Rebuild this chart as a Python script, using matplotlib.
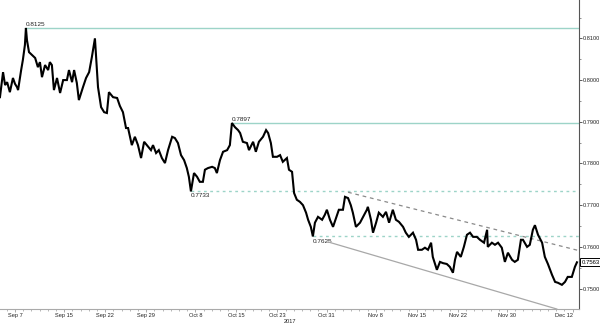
#!/usr/bin/env python3
"""
AUD/USD hourly chart, Sep - Dec 2017, with support/resistance levels.
"""
import numpy as np
import matplotlib
matplotlib.use('Agg')
import matplotlib.pyplot as plt
import matplotlib.transforms as mtransforms
from matplotlib.ticker import FixedLocator, MultipleLocator

START = '2017-09-05'

# trading hours since START (weekends collapsed) and price
hours = [4, 13, 19, 25, 33, 42, 48, 54, 57, 66, 71, 77, 80, 83, 89, 98, 107, 115, 121, 127,
	136, 145, 150, 156, 162, 171, 180, 189, 200, 206, 215, 221, 229, 235, 247, 256, 265, 273,
	282, 288, 291, 300, 309, 317, 323, 335, 347, 355, 364, 373, 379, 390, 399, 408, 417, 426,
	434, 446, 452, 461, 469, 478, 487, 496, 508, 516, 525, 534, 543, 551, 557, 563, 572, 581,
	589, 598, 604, 613, 625, 633, 639, 648, 657, 669, 677, 683, 692, 701, 707, 715, 727, 733,
	745, 753, 762, 774, 783, 789, 797, 803, 815, 824, 832, 844, 850, 859, 865, 873, 882, 891,
	900, 906, 914, 920, 926, 935, 947, 955, 961, 970, 979, 988, 996, 1008, 1014, 1023, 1031,
	1037, 1046, 1058, 1067, 1078, 1081, 1090, 1096, 1105, 1113, 1125, 1134, 1143, 1154, 1163,
	1172, 1184, 1192, 1201, 1213, 1222, 1228, 1239, 1248, 1257, 1266, 1271, 1283, 1292, 1301,
	1312, 1321, 1330, 1336, 1342, 1353, 1362, 1371, 1380, 1389, 1400, 1409, 1421, 1430, 1432,
	1444, 1453, 1462, 1473, 1482, 1491, 1503, 1511, 1520, 1529, 1535, 1547, 1555, 1564, 1570,
	1579, 1591, 1599, 1608, 1620, 1629, 1637, 1649, 1658, 1666, 1678, 1687, 1693]
price = [0.7959, 0.8019, 0.7988, 0.7995, 0.7971, 0.8005, 0.7991, 0.7983, 0.7976, 0.8024,
	0.8048, 0.8084, 0.8125, 0.8096, 0.8067, 0.8060, 0.8053, 0.8031, 0.8043, 0.8007,
	0.8036, 0.8024, 0.8043, 0.8036, 0.7976, 0.8005, 0.7969, 0.8000, 0.8000, 0.8024,
	0.7995, 0.8024, 0.7993, 0.7952, 0.7983, 0.8005, 0.8019, 0.8055, 0.8100, 0.8024,
	0.7983, 0.7935, 0.7923, 0.7921, 0.7971, 0.7959, 0.7957, 0.7938, 0.7923, 0.7885,
	0.7885, 0.7844, 0.7864, 0.7844, 0.7813, 0.7852, 0.7844, 0.7832, 0.7844, 0.7825,
	0.7832, 0.7813, 0.7801, 0.7832, 0.7864, 0.7861, 0.7849, 0.7820, 0.7808, 0.7789,
	0.7768, 0.7733, 0.7777, 0.7768, 0.7756, 0.7756, 0.7785, 0.7789, 0.7792, 0.7789,
	0.7777, 0.7808, 0.7828, 0.7832, 0.7844, 0.7897, 0.7887, 0.7880, 0.7873, 0.7852,
	0.7849, 0.7832, 0.7852, 0.7828, 0.7852, 0.7864, 0.7880, 0.7873, 0.7849, 0.7816,
	0.7816, 0.7820, 0.7804, 0.7813, 0.7785, 0.7780, 0.7729, 0.7713, 0.7708, 0.7700,
	0.7682, 0.7665, 0.7648, 0.7625, 0.7658, 0.7672, 0.7665, 0.7677, 0.7689, 0.7665,
	0.7648, 0.7670, 0.7689, 0.7689, 0.7720, 0.7717, 0.7700, 0.7682, 0.7648, 0.7658,
	0.7672, 0.7689, 0.7696, 0.7665, 0.7634, 0.7658, 0.7682, 0.7672, 0.7684, 0.7658,
	0.7689, 0.7665, 0.7660, 0.7648, 0.7634, 0.7624, 0.7634, 0.7617, 0.7593, 0.7593,
	0.7598, 0.7593, 0.7610, 0.7576, 0.7545, 0.7564, 0.7561, 0.7559, 0.7552, 0.7538,
	0.7569, 0.7588, 0.7576, 0.7600, 0.7629, 0.7634, 0.7624, 0.7624, 0.7617, 0.7610,
	0.7641, 0.7600, 0.7610, 0.7605, 0.7610, 0.7598, 0.7564, 0.7586, 0.7569, 0.7564,
	0.7569, 0.7617, 0.7617, 0.7600, 0.7605, 0.7641, 0.7652, 0.7629, 0.7610, 0.7576,
	0.7559, 0.7533, 0.7516, 0.7514, 0.7509, 0.7516, 0.7528, 0.7528, 0.7552, 0.7563]

# marked highs / lows, drawn as levels to the right edge
levels = [0.8125, 0.7897, 0.7733, 0.7625]
level_dashed = [False, False, True, True]

# trend lines (hour, price) pairs
resist_hours = [1023, 1699]
resist_price = [0.7731, 0.7591]
support_hours = [964, 1634]
support_price = [0.7612, 0.7451]

tick_dates = ['2017-09-07', '2017-09-15', '2017-09-22', '2017-09-29', '2017-10-08',
	'2017-10-15', '2017-10-23', '2017-10-31', '2017-11-08', '2017-11-15', '2017-11-22',
	'2017-11-30', '2017-12-12']
tick_labels = ['Sep 7', 'Sep 15', 'Sep 22', 'Sep 29', 'Oct 8', 'Oct 15', 'Oct 23', 'Oct 31',
	'Nov 8', 'Nov 15', 'Nov 22', 'Nov 30', 'Dec 12']
year_label = '2017'

TEAL = '#9dd4c8'
plt.rcParams['font.family'] = ['Liberation Sans', 'DejaVu Sans']

fig = plt.figure(figsize=(6, 3.23), dpi=100)
ax = fig.add_axes([0, 0.0433, 0.965, 0.9567])

ax.plot(hours, price, color='black', lw=1.5, solid_joinstyle='miter', zorder=5)

x_right = 1699
for lvl, dashed in zip(levels, level_dashed):
	h0 = hours[price.index(lvl)]
	ax.plot([h0, x_right], [lvl, lvl], color=TEAL, lw=1.0,
		linestyle=(0, (2, 2.5)) if dashed else '-', zorder=2)
	if dashed:
		ax.annotate('%.4f' % lvl, (h0, lvl), xytext=(0, -1.5), textcoords='offset points',
			ha='left', va='top', fontsize=4.6, color='#222222')
	else:
		ax.annotate('%.4f' % lvl, (h0, lvl), xytext=(0, 0.5), textcoords='offset points',
			ha='left', va='bottom', fontsize=4.6, color='#222222')

ax.plot(resist_hours, resist_price, color='#8a8a8a', lw=0.9, linestyle=(0, (3, 3)), zorder=3)
ax.plot(support_hours, support_price, color='#a8a8a8', lw=0.9, zorder=3)

ax.set_xlim(4.1, x_right)
ax.set_ylim(0.7451, 0.8192)

# y axis on the right
ax.yaxis.tick_right()
ax.set_yticks(np.arange(0.75, 0.8101, 0.01))
ax.yaxis.set_major_formatter(plt.FormatStrFormatter('%.4f'))
ax.yaxis.set_minor_locator(MultipleLocator(0.005))
ax.tick_params(axis='y', which='major', length=2, width=0.6, pad=0.8,
	labelsize=4.1, colors='#444444', labelcolor='#222222')
ax.tick_params(axis='y', which='minor', length=1.5, width=0.5, colors='#666666')

# x axis in trading hours
tick_pos = np.busday_count(START, tick_dates) * 24
ax.xaxis.set_major_locator(FixedLocator(tick_pos))
ax.set_xticklabels(tick_labels)
ax.xaxis.set_minor_locator(MultipleLocator(24))
ax.tick_params(axis='x', which='major', length=2, width=0.5, pad=1,
	labelsize=4.1, colors='#888888', labelcolor='#222222')
ax.tick_params(axis='x', which='minor', length=1.2, width=0.5, colors='#999999')
ax.get_xticklabels()[-1].set_horizontalalignment('right')
ax.text(0.5, -0.033, year_label, transform=ax.transAxes, ha='center', va='top',
	fontsize=4.1, color='#222222')

for side in ('left', 'top'):
	ax.spines[side].set_visible(False)
ax.spines['right'].set_color('#555555')
ax.spines['right'].set_linewidth(0.8)
ax.spines['bottom'].set_color('#aaaaaa')
ax.spines['bottom'].set_linewidth(0.8)

# last price box
trans = mtransforms.blended_transform_factory(ax.transAxes, ax.transData)
ax.text(1.004, price[-1], '%.4f' % price[-1], transform=trans, ha='left', va='center',
	fontsize=4.3, color='black', zorder=10,
	bbox=dict(boxstyle='square,pad=0.25', fc='white', ec='black', lw=0.7))

fig.savefig('out.png', dpi=100)
